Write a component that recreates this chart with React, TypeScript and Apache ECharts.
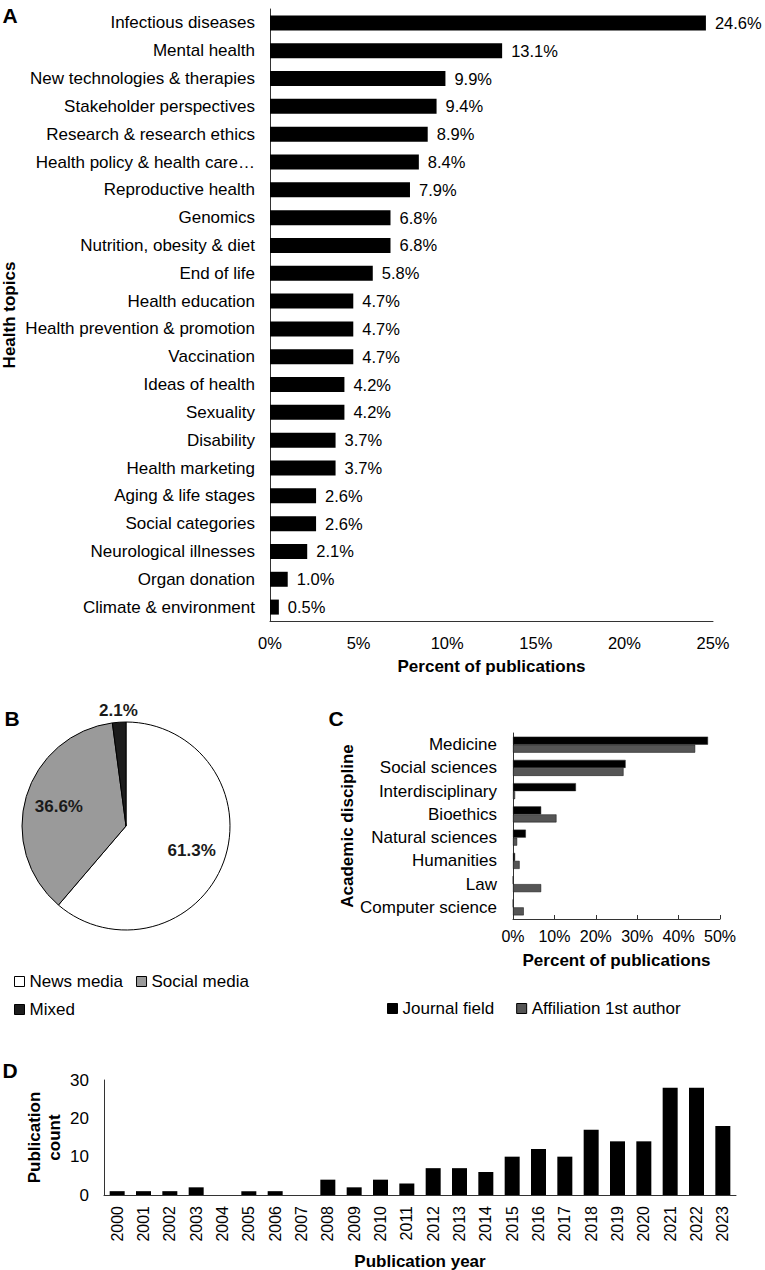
import React, { useEffect, useRef } from "react";
import * as echarts from "echarts";

// ---------- Data ----------
const topics = [
  "Infectious diseases",
  "Mental health",
  "New technologies & therapies",
  "Stakeholder perspectives",
  "Research & research ethics",
  "Health policy & health care…",
  "Reproductive health",
  "Genomics",
  "Nutrition, obesity & diet",
  "End of life",
  "Health education",
  "Health prevention & promotion",
  "Vaccination",
  "Ideas of health",
  "Sexuality",
  "Disability",
  "Health marketing",
  "Aging & life stages",
  "Social categories",
  "Neurological illnesses",
  "Organ donation",
  "Climate & environment",
];
const topicPercents = [24.6, 13.1, 9.9, 9.4, 8.9, 8.4, 7.9, 6.8, 6.8, 5.8, 4.7, 4.7, 4.7, 4.2, 4.2, 3.7, 3.7, 2.6, 2.6, 2.1, 1.0, 0.5];

const mediaTypes = ["News media", "Social media", "Mixed"];
const mediaCounts = [117, 70, 4];
const mediaColors = ["#ffffff", "#9a9a9a", "#1c1c1c"];

const disciplines = [
  "Medicine",
  "Social sciences",
  "Interdisciplinary",
  "Bioethics",
  "Natural sciences",
  "Humanities",
  "Law",
  "Computer science",
];
const journalField = [47.1, 27.2, 15.2, 6.8, 3.1, 0.5, 0, 0];
const affiliation = [44.0, 26.7, 0.5, 10.5, 1.0, 1.6, 6.8, 2.6];

const years = [
  "2000", "2001", "2002", "2003", "2004", "2005", "2006", "2007",
  "2008", "2009", "2010", "2011", "2012", "2013", "2014", "2015",
  "2016", "2017", "2018", "2019", "2020", "2021", "2022", "2023",
];
const yearCounts = [1, 1, 1, 2, 0, 1, 1, 0, 4, 2, 4, 3, 7, 7, 6, 10, 12, 10, 17, 14, 14, 28, 28, 18];

// ---------- Styles ----------
const F = "'Liberation Sans', Arial, Helvetica, sans-serif";
const AX = { color: "#333333", width: 1 };
const nameStyle = { fontFamily: F, fontWeight: "bold", fontSize: 17, color: "#000", lineHeight: 17 };

export default function App() {
  const ref = useRef<HTMLDivElement>(null);

  useEffect(() => {
    if (!ref.current) return;
    const chart = echarts.init(ref.current, undefined, { renderer: "svg" });

    const letter = (t: string, x: number, y: number) => ({
      type: "text",
      x,
      y,
      silent: true,
      style: {
        text: t,
        fontFamily: F,
        fontWeight: "bold",
        fontSize: 21,
        fill: "#000",
        align: "center",
        verticalAlign: "middle",
      },
    });

    const option: any = {
      animation: false,
      textStyle: { fontFamily: F, color: "#000" },
      grid: [
        { left: 270, top: 9, width: 443, height: 612, outerBoundsMode: "none" },
        { left: 513, top: 733, width: 207, height: 186, outerBoundsMode: "none" },
        { left: 104, top: 1080, width: 632, height: 115, outerBoundsMode: "none" },
      ],
      xAxis: [
        {
          gridIndex: 0,
          type: "value",
          min: 0,
          max: 25,
          interval: 5,
          axisLine: { show: true, lineStyle: AX },
          axisTick: { show: false },
          splitLine: { show: false },
          axisLabel: { formatter: "{value}%", fontSize: 16.5, margin: 13, color: "#000", fontFamily: F },
          name: "Percent of publications",
          nameLocation: "middle",
          nameGap: 37,
          nameMoveOverlap: false,
          nameTextStyle: nameStyle,
        },
        {
          gridIndex: 1,
          type: "value",
          min: 0,
          max: 50,
          interval: 10,
          axisLine: { show: true, lineStyle: AX },
          axisTick: { show: true, inside: true, length: 4, lineStyle: AX },
          splitLine: { show: false },
          axisLabel: { formatter: "{value}%", fontSize: 16, margin: 9, color: "#000", fontFamily: F },
          name: "Percent of publications",
          nameLocation: "middle",
          nameGap: 33,
          nameMoveOverlap: false,
          nameTextStyle: nameStyle,
        },
        {
          gridIndex: 2,
          type: "category",
          data: years,
          axisLine: { show: true, lineStyle: AX },
          axisTick: { show: false },
          axisLabel: { rotate: 90, interval: 0, fontSize: 16, margin: 11, color: "#000", fontFamily: F },
          name: "Publication year",
          nameLocation: "middle",
          nameGap: 58,
          nameMoveOverlap: false,
          nameTextStyle: nameStyle,
        },
      ],
      yAxis: [
        {
          gridIndex: 0,
          type: "category",
          data: topics,
          inverse: true,
          axisLine: { show: true, lineStyle: AX },
          axisTick: { show: false },
          axisLabel: { fontSize: 17, margin: 15, color: "#000", fontFamily: F },
          name: "Health topics",
          nameLocation: "middle",
          nameGap: 252,
          nameMoveOverlap: false,
          nameTextStyle: nameStyle,
        },
        {
          gridIndex: 1,
          type: "category",
          data: disciplines,
          inverse: true,
          axisLine: { show: true, lineStyle: AX },
          axisTick: { show: false },
          axisLabel: { fontSize: 17, margin: 16, color: "#000", fontFamily: F },
          name: "Academic discipline",
          nameLocation: "middle",
          nameGap: 157,
          nameMoveOverlap: false,
          nameTextStyle: nameStyle,
        },
        {
          gridIndex: 2,
          type: "value",
          min: 0,
          max: 30,
          interval: 10,
          axisLine: { show: true, lineStyle: AX },
          axisTick: { show: false },
          splitLine: { show: false },
          axisLabel: { fontSize: 17, margin: 15, color: "#000", fontFamily: F },
          name: "Publication\ncount",
          nameLocation: "middle",
          nameGap: 40,
          nameMoveOverlap: false,
          nameTextStyle: { ...nameStyle, lineHeight: 20 },
        },
      ],
      legend: [
        {
          data: ["News media", "Social media"],
          left: 14,
          top: 973,
          padding: 0,
          itemWidth: 10,
          itemHeight: 10,
          itemGap: 13,
          icon: "rect",
          selectedMode: false,
          itemStyle: { borderColor: "#000", borderWidth: 1 },
          textStyle: { fontSize: 17, color: "#000", fontFamily: F },
        },
        {
          data: ["Mixed"],
          left: 14,
          top: 1001,
          padding: 0,
          itemWidth: 10,
          itemHeight: 10,
          icon: "rect",
          selectedMode: false,
          itemStyle: { borderColor: "#000", borderWidth: 1 },
          textStyle: { fontSize: 17, color: "#000", fontFamily: F },
        },
        {
          data: ["Journal field", "Affiliation 1st author"],
          left: 387,
          top: 1000,
          padding: 0,
          itemWidth: 10,
          itemHeight: 10,
          itemGap: 22,
          icon: "rect",
          selectedMode: false,
          itemStyle: { borderColor: "#000", borderWidth: 1 },
          textStyle: { fontSize: 17, color: "#000", fontFamily: F },
        },
      ],
      series: [
        {
          type: "bar",
          name: "Health topics",
          xAxisIndex: 0,
          yAxisIndex: 0,
          data: topicPercents,
          barWidth: 15,
          silent: true,
          itemStyle: { color: "#000" },
          label: {
            show: true,
            position: "right",
            distance: 9,
            formatter: (p: any) => Number(p.value).toFixed(1) + "%",
            fontSize: 16.5,
            color: "#000",
            fontFamily: F,
          },
        },
        {
          type: "bar",
          name: "Journal field",
          xAxisIndex: 1,
          yAxisIndex: 1,
          data: journalField,
          barWidth: 8,
          barGap: "0%",
          silent: true,
          itemStyle: { color: "#000", borderColor: "#222", borderWidth: 0.5 },
        },
        {
          type: "bar",
          name: "Affiliation 1st author",
          xAxisIndex: 1,
          yAxisIndex: 1,
          data: affiliation,
          barWidth: 8,
          barGap: "0%",
          silent: true,
          itemStyle: { color: "#555555", borderColor: "#111", borderWidth: 0.5 },
        },
        {
          type: "bar",
          name: "Publication count",
          xAxisIndex: 2,
          yAxisIndex: 2,
          data: yearCounts,
          barWidth: 15,
          silent: true,
          itemStyle: { color: "#000" },
        },
        {
          type: "pie",
          name: "Media",
          center: [126, 826],
          radius: [0, 104],
          startAngle: 90,
          clockwise: true,
          silent: true,
          percentPrecision: 1,
          emphasis: { disabled: true },
          itemStyle: { borderColor: "#000", borderWidth: 1 },
          label: { show: false },
          labelLine: { show: false },
          data: mediaTypes.map((n, i) => ({ name: n, value: mediaCounts[i], itemStyle: { color: mediaColors[i] } })),
        },
        {
          type: "pie",
          name: "MediaLabelsInner",
          center: [126, 826],
          radius: [0, 134],
          startAngle: 90,
          clockwise: true,
          silent: true,
          percentPrecision: 1,
          emphasis: { disabled: true },
          itemStyle: { color: "rgba(0,0,0,0)", borderWidth: 0 },
          labelLine: { show: false },
          label: {
            show: true,
            position: "inside",
            formatter: "{d}%",
            fontSize: 17,
            fontWeight: "bold",
            color: "#1a1a1a",
            fontFamily: F,
            textBorderWidth: 0,
          },
          data: mediaTypes.map((n, i) => ({ name: n, value: mediaCounts[i], label: { show: i < 2 } })),
        },
        {
          type: "pie",
          name: "MediaLabelsOuter",
          center: [126, 826],
          radius: [0, 226],
          startAngle: 90,
          clockwise: true,
          silent: true,
          percentPrecision: 1,
          emphasis: { disabled: true },
          itemStyle: { color: "rgba(0,0,0,0)", borderWidth: 0 },
          labelLine: { show: false },
          label: {
            show: true,
            position: "inside",
            formatter: "{d}%",
            fontSize: 17,
            fontWeight: "bold",
            color: "#1a1a1a",
            fontFamily: F,
            textBorderWidth: 0,
          },
          data: mediaTypes.map((n, i) => ({ name: n, value: mediaCounts[i], label: { show: i === 2 } })),
        },
      ],
      graphic: [letter("A", 10, 15), letter("B", 12, 718), letter("C", 336, 718), letter("D", 10, 1070)],
    };

    chart.setOption(option);
    return () => chart.dispose();
  }, []);

  return (
    <div
      ref={ref}
      style={{ position: "absolute", left: 0, top: 0, width: 765, height: 1270, background: "#fff" }}
    />
  );
}
